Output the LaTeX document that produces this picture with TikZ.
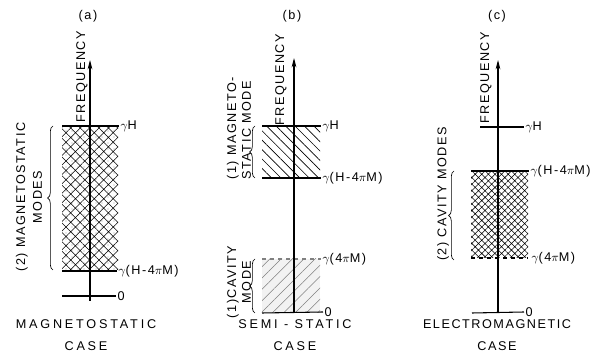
\documentclass[tikz,border=0pt]{standalone}
\usepackage{fontspec}
\newfontfamily\lblfont[LetterSpace=12]{Liberation Sans}
\newfontfamily\casefont[LetterSpace=22]{Liberation Sans}
\usetikzlibrary{patterns.meta,decorations.pathreplacing,arrows.meta}

\tikzset{
  lvl/.style={line width=0.8pt},
  axis/.style={line width=0.8pt,-{Stealth[length=7pt,width=3.5pt]}},
  txt/.style={font=\lblfont\fontsize{9.5}{11}\selectfont,inner sep=1pt},
  vtxt/.style={txt,rotate=90,align=center},
  val/.style={txt,anchor=west},
  casetxt/.style={font=\casefont\fontsize{9.5}{11}\selectfont,inner sep=1pt,align=center},
  brc/.style={decorate,decoration={brace,amplitude=4pt},line width=0.5pt},
}

\begin{document}
\begin{tikzpicture}[x=0.75pt,y=-0.75pt]
\useasboundingbox (0,0) rectangle (601,359);

% (a) magnetostatic case
\fill[pattern={Hatch[angle=45,distance=5pt,line width=0.4pt]}] (62,126) rectangle (118,270);
\fill[pattern={Dots[distance=4.5pt,radius=0.35pt]}] (62,126) rectangle (118,270);
\node[val] (aH) at (119,126) {$\gamma$H};
\node[val] (aHM) at (117,271) {$\gamma$(H-4$\pi$M)};
\node[val] (aZero) at (116,296) {0};
\coordinate (aBot) at (90,301);
\coordinate (aTop) at (90,60);
\draw[lvl] (62,126) -- (aH.west);
\draw[lvl] (62,271) -- (aHM.west);
\draw[lvl] (62,296) -- (aZero.west);
\draw[axis] (aBot) -- (aTop);
\draw[brc] (53,270) -- (53,126);
\node[vtxt,font=\lblfont\fontsize{9.5}{12.5}\selectfont] (aModes) at (29,197) {(2) MAGNETOSTATIC\\MODES};
\node[vtxt] (aFreq) at (82,77) {FREQUENCY};
\node[txt] (aTag) at (88,16) {(a)};
\node[casetxt] (aCase) at (86,335) {MAGNETOSTATIC\\[6pt]CASE};

% (b) semi-static case
\fill[pattern={Lines[angle=-45,distance=5pt,line width=0.5pt]}] (262,126) rectangle (320,178);
\fill[gray!10] (262,259) rectangle (320,313);
\fill[pattern={Lines[angle=45,distance=6pt,line width=0.4pt]},pattern color=gray] (262,259) rectangle (320,313);
\node[val] (bH) at (321,126) {$\gamma$H};
\node[val] (bHM) at (321,178) {$\gamma$(H-4$\pi$M)};
\node[val] (bM) at (321,259) {$\gamma$(4$\pi$M)};
\node[val] (bZero) at (323,312) {0};
\coordinate (bBot) at (294,313);
\coordinate (bTop) at (294,58);
\draw[lvl] (262,126) -- (bH.west);
\draw[lvl] (262,178) -- (bHM.west);
\draw[lvl,dashed,gray] (262,259) -- (bM.west);
\draw[lvl] (262,313) -- (bZero.west);
\draw[axis] (bBot) -- (bTop);
\draw[brc] (255,178) -- (255,126);
\draw[brc] (255,313) -- (255,259);
\node[vtxt,align=left,anchor=west] (bMag) at (239,181) {(1) MAGNETO-\\STATIC MODE};
\node[vtxt] (bCav) at (239,282) {(1)CAVITY\\MODE};
\node[vtxt] (bFreq) at (281,80) {FREQUENCY};
\node[txt] (bTag) at (292,16) {(b)};
\node[casetxt] (bCase) at (295,335) {SEMI - STATIC\\[6pt]CASE};

% (c) electromagnetic case
\fill[pattern={Hatch[angle=45,distance=3.5pt,line width=0.4pt]}] (471,171) rectangle (528,258);
\node[val] (cH) at (524,127) {$\gamma$H};
\node[val] (cHM) at (529,171) {$\gamma$(H-4$\pi$M)};
\node[val] (cM) at (530,258) {$\gamma$(4$\pi$M)};
\node[val] (cZero) at (524,312) {0};
\coordinate (cBot) at (498,313);
\coordinate (cTop) at (498,60);
\draw[lvl] (480,127) -- (cH.west);
\draw[lvl] (471,171) -- (cHM.west);
\draw[lvl,dashed] (471,258) -- (528,258);
\draw[lvl] (472,313) -- (cZero.west);
\draw[axis] (cBot) -- (cTop);
\draw[brc] (454,260) -- (454,171);
\node[vtxt] (cModes) at (443,194) {(2) CAVITY MODES};
\node[vtxt] (cFreq) at (486,78) {FREQUENCY};
\node[txt] (cTag) at (497,16) {(c)};
\node[casetxt,font=\lblfont\fontsize{9.5}{11}\selectfont] (cCase) at (497,335) {ELECTROMAGNETIC\\[6pt]CASE};
\end{tikzpicture}
\end{document}
